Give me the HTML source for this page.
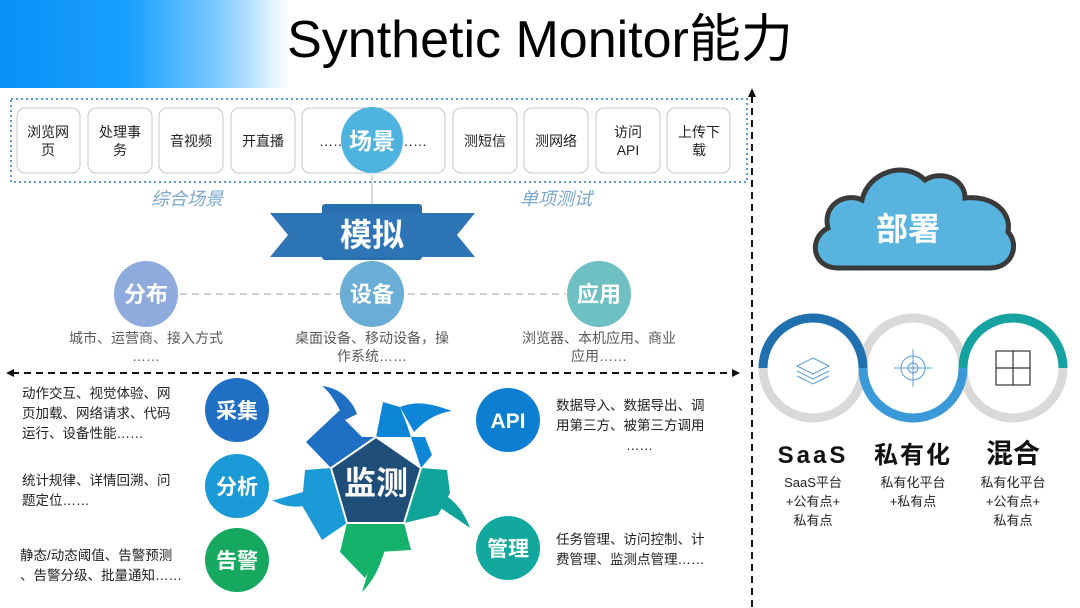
<!DOCTYPE html>
<html><head><meta charset="utf-8"><style>
body{margin:0;background:#fff;}
svg{display:block;font-family:"Liberation Sans","Noto Sans CJK SC",sans-serif;}
</style></head><body>
<svg width="1080" height="608" viewBox="0 0 1080 608" xmlns="http://www.w3.org/2000/svg">
<defs>
<linearGradient id="bn" x1="0" x2="1" y1="0" y2="0">
<stop offset="0" stop-color="#0a8ff5"/><stop offset="0.45" stop-color="#1aa0ff"/><stop offset="0.75" stop-color="#7cc8ff"/><stop offset="1" stop-color="#fff"/>
</linearGradient>
</defs>
<rect x="0" y="0" width="290" height="88" fill="url(#bn)"/>
<text x="540" y="57" text-anchor="middle" font-size="52" fill="#000">Synthetic Monitor能力</text>

<rect x="11" y="99" width="736" height="83" fill="none" stroke="#5b9bd5" stroke-width="2" stroke-dasharray="2,3"/>
<g fill="#fff" stroke="#c8c8c8" stroke-width="1">
<rect x="17" y="108" width="63" height="65" rx="8"/>
<rect x="88" y="108" width="64" height="65" rx="8"/>
<rect x="159" y="108" width="64" height="65" rx="8"/>
<rect x="231" y="108" width="64" height="65" rx="8"/>
<rect x="302" y="108" width="143" height="65" rx="8"/>
<rect x="453" y="108" width="64" height="65" rx="8"/>
<rect x="524" y="108" width="64" height="65" rx="8"/>
<rect x="596" y="108" width="64" height="65" rx="8"/>
<rect x="667" y="108" width="63" height="65" rx="8"/>
</g>
<g font-size="14" fill="#222" text-anchor="middle">
<text x="48" y="137">浏览网</text><text x="48" y="155">页</text>
<text x="120" y="137">处理事</text><text x="120" y="155">务</text>
<text x="191" y="146">音视频</text>
<text x="263" y="146">开直播</text>
<text x="333" y="146">……</text><text x="413" y="146">……</text>
<text x="485" y="146">测短信</text>
<text x="556" y="146">测网络</text>
<text x="628" y="137">访问</text><text x="628" y="155">API</text>
<text x="699" y="137">上传下</text><text x="699" y="155">载</text>
</g>
<line x1="372" y1="175" x2="372" y2="290" stroke="#ccc" stroke-width="1.5"/>
<ellipse cx="372" cy="140" rx="31" ry="33" fill="#4fb3e0"/>
<text x="372" y="149" text-anchor="middle" font-size="23" font-weight="bold" fill="#fff">场景</text>
<text x="187" y="205" text-anchor="middle" font-size="18" font-style="italic" fill="#7aa7d0">综合场景</text>
<text x="556" y="205" text-anchor="middle" font-size="18" font-style="italic" fill="#7aa7d0">单项测试</text>

<polygon points="270,213 320,213 320,257 270,257 288,235" fill="#2e75b6"/>
<polygon points="475,213 425,213 425,257 475,257 457,235" fill="#2e75b6"/>
<rect x="322" y="204" width="100" height="56" rx="3" fill="#2a6fb0"/>
<rect x="298" y="213" width="148" height="44" fill="#2e75b6"/>
<text x="372" y="246" text-anchor="middle" font-size="32" font-weight="bold" fill="#fff">模拟</text>

<line x1="180" y1="294" x2="566" y2="294" stroke="#d0d0d0" stroke-width="2" stroke-dasharray="7,5"/>
<ellipse cx="146" cy="294" rx="32" ry="33" fill="#8faadc"/>
<ellipse cx="372" cy="294" rx="32" ry="33" fill="#6aaed6"/>
<ellipse cx="599" cy="294" rx="32" ry="33" fill="#6ec0c2"/>
<g font-size="22" font-weight="bold" fill="#fff" text-anchor="middle">
<text x="146" y="302">分布</text><text x="372" y="302">设备</text><text x="599" y="302">应用</text>
</g>
<g font-size="14" fill="#595959" text-anchor="middle">
<text x="146" y="343">城市、运营商、接入方式</text><text x="146" y="361">……</text>
<text x="372" y="343">桌面设备、移动设备，操</text><text x="372" y="361">作系统……</text>
<text x="599" y="343">浏览器、本机应用、商业</text><text x="599" y="361">应用……</text>
</g>

<line x1="12" y1="373" x2="733" y2="373" stroke="#111" stroke-width="2" stroke-dasharray="7,5"/>
<polygon points="6,373 14,369 14,377" fill="#111"/>
<polygon points="740,373 732,369 732,377" fill="#111"/>
<line x1="752" y1="96" x2="752" y2="608" stroke="#111" stroke-width="2" stroke-dasharray="7,5"/>
<polygon points="752,88 748,97 756,97" fill="#111"/>

<polygon points="331,468 306,442 340,410 345,420 362,437 376,437 369,451" fill="#1f6fc5"/>
<path d="M345,420 C336,402 330,392 322,386 C340,388 352,400 357,414 Z" fill="#1f6fc5"/>
<polygon points="376,437 383,402 400,407 407,425 421,468 432,455 425,437" fill="#0d86d8"/>
<path d="M400,407 C418,400 432,404 452,411 C432,414 422,424 414,432 Z" fill="#0d86d8"/>
<polygon points="421,468 447,470 450,493 438,515 404,523" fill="#10a39a"/>
<path d="M440,492 C455,500 464,512 470,528 C456,518 446,512 438,506 Z" fill="#10a39a"/>
<polygon points="347,523 404,523 411,550 378,552 365,578 340,552" fill="#14b26a"/>
<path d="M372,548 C370,566 366,580 362,592 C376,578 380,564 385,550 Z" fill="#14b26a"/>
<polygon points="331,468 347,523 322,540 300,502 275,500 303,492 305,470" fill="#1a9ad6"/>
<path d="M305,493 C292,498 282,500 272,500 C284,507 296,508 310,505 Z" fill="#1a9ad6"/>
<polygon points="376,437 421,468 404,523 347,523 331,468" fill="#1f4e79" stroke="#fff" stroke-width="2"/>
<text x="376" y="494" text-anchor="middle" font-size="32" font-weight="bold" fill="#fff">监测</text>

<circle cx="237" cy="410" r="32" fill="#1f6fc5"/>
<circle cx="237" cy="486" r="32" fill="#1a9ad6"/>
<circle cx="237" cy="560" r="32" fill="#16a85e"/>
<circle cx="508" cy="420" r="32" fill="#0d7fd0"/>
<circle cx="508" cy="548" r="32" fill="#13a89e"/>
<g font-size="21" font-weight="bold" fill="#fff" text-anchor="middle">
<text x="237" y="418">采集</text><text x="237" y="494">分析</text><text x="237" y="568">告警</text>
<text x="508" y="428">API</text><text x="508" y="556">管理</text>
</g>
<g font-size="13.5" fill="#222">
<text x="22" y="398">动作交互、视觉体验、网</text>
<text x="22" y="418">页加载、网络请求、代码</text>
<text x="22" y="438">运行、设备性能……</text>
<text x="22" y="485">统计规律、详情回溯、问</text>
<text x="22" y="505">题定位……</text>
<text x="20" y="560">静态/动态阈值、告警预测</text>
<text x="20" y="580">、告警分级、批量通知……</text>
<text x="556" y="410">数据导入、数据导出、调</text>
<text x="556" y="430">用第三方、被第三方调用</text>
<text x="626" y="450">……</text>
<text x="556" y="544">任务管理、访问控制、计</text>
<text x="556" y="564">费管理、监测点管理……</text>
</g>

<path d="M838,268 C812,268 808,238 828,228 C822,205 845,192 862,200 C868,172 905,160 925,180 C940,170 965,178 965,198 C990,195 1012,210 1008,232 C1020,245 1012,268 990,268 Z" fill="#58b4df" stroke="#3a3a3a" stroke-width="5"/>
<text x="908" y="240" text-anchor="middle" font-size="32" font-weight="bold" fill="#fff">部署</text>

<g fill="none" stroke-width="9">
<circle cx="813" cy="368" r="50" stroke="#d9d9d9"/>
<circle cx="913" cy="368" r="50" stroke="#d9d9d9"/>
<circle cx="1013" cy="368" r="50" stroke="#d9d9d9"/>
<path d="M763,368 A50,50 0 0 1 863,368" stroke="#2070b0"/>
<path d="M863,368 A50,50 0 0 0 963,368" stroke="#3a9ad9"/>
<path d="M963,368 A50,50 0 0 1 1063,368" stroke="#17a2a2"/>
</g>
<g fill="none" stroke="#5b9bd5" stroke-width="1">
<polygon points="813,358 829,366 813,374 797,366"/>
<polyline points="797,371 813,379 829,371"/>
<polyline points="797,376 813,384 829,376"/>
<circle cx="913" cy="368" r="12"/><circle cx="913" cy="368" r="5"/>
<line x1="894" y1="368" x2="932" y2="368"/><line x1="913" y1="349" x2="913" y2="387"/>
</g>
<g fill="none" stroke="#333" stroke-width="1.2">
<rect x="996" y="351" width="34" height="34"/>
<line x1="996" y1="368" x2="1030" y2="368"/><line x1="1013" y1="351" x2="1013" y2="385"/>
</g>
<g font-weight="bold" fill="#111" text-anchor="middle" font-size="24">
<text x="813" y="463" letter-spacing="3">SaaS</text>
<text x="913" y="463" letter-spacing="2">私有化</text>
<text x="1013" y="463" font-size="27">混合</text>
</g>
<g font-size="13" fill="#222" text-anchor="middle">
<text x="813" y="487">SaaS平台</text><text x="813" y="506">+公有点+</text><text x="813" y="525">私有点</text>
<text x="913" y="487">私有化平台</text><text x="913" y="506">+私有点</text>
<text x="1013" y="487">私有化平台</text><text x="1013" y="506">+公有点+</text><text x="1013" y="525">私有点</text>
</g>
</svg>
</body></html>
